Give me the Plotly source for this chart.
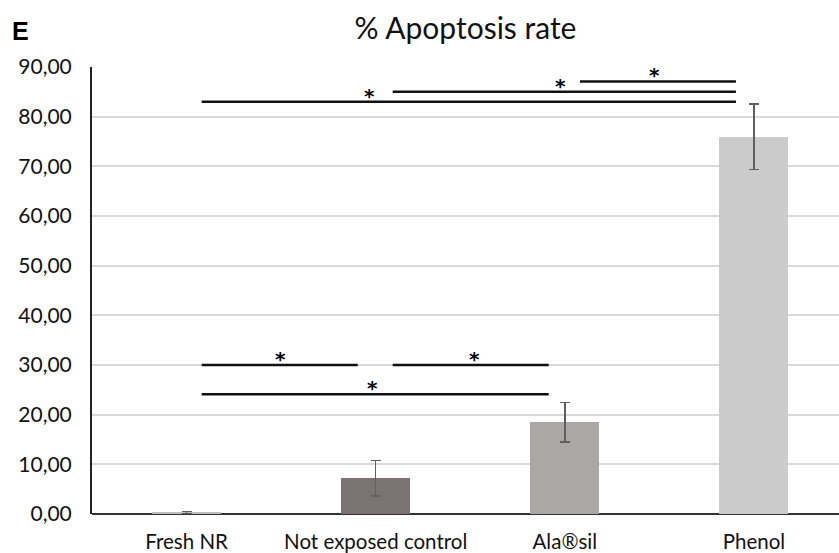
import plotly.graph_objects as go

categories = ["Fresh NR", "Not exposed control", "Ala®sil", "Phenol"]
values = [0.3, 7.2, 18.5, 76.0]
errors = [0.2, 3.6, 4.0, 6.6]
bar_colors = ["#bdbdbd", "#7b7372", "#a9a8a4", "#cbcbcb"]

# significance brackets: (x_start, x_end, y)
sig_lines = [
    (2.08, 2.905, 87.1),
    (1.09, 2.905, 85.0),
    (0.08, 2.905, 83.0),
    (0.08, 0.905, 30.0),
    (1.09, 1.915, 30.0),
    (0.08, 1.915, 24.1),
]
# star positions: (x, y)
sig_stars = [
    (2.476, 87.1),
    (1.979, 85.0),
    (0.968, 83.0),
    (0.497, 30.0),
    (1.524, 30.0),
    (0.984, 24.1),
]

fig = go.Figure()
fig.add_trace(go.Bar(
    x=categories, y=values,
    marker=dict(color=bar_colors, line=dict(width=0)),
    width=0.365,
    error_y=dict(type="data", array=errors, color="#606060", thickness=1.5, width=5),
))

shapes = []
for x0, x1, y in sig_lines:
    shapes.append(dict(type="line", xref="x", yref="y", x0=x0, x1=x1, y0=y, y1=y,
                       line=dict(color="#111111", width=2.5)))
annotations = []
for x, y in sig_stars:
    annotations.append(dict(x=x, y=y, xref="x", yref="y", text="<b>*</b>", showarrow=False,
                            yanchor="bottom", yshift=-8,
                            font=dict(size=20, color="#000000", family="DejaVu Sans")))
annotations.append(dict(xref="paper", yref="paper", x=-0.11, y=1.045, xanchor="left", yanchor="bottom",
                        text="<b>E</b>", showarrow=False,
                        font=dict(size=25, color="#000000", family="Arial")))

fig.update_layout(
    width=839, height=553,
    margin=dict(l=92, r=0, t=67, b=39),
    paper_bgcolor="white", plot_bgcolor="white",
    separators=",.",
    showlegend=False,
    title=dict(text="% Apoptosis rate", x=0.5, xref="paper", y=0.948, yanchor="middle",
               font=dict(size=30, color="#111111", family="Lato")),
    font=dict(family="Lato", color="#111111"),
    xaxis=dict(range=[-0.5, 3.45], showgrid=False, showline=False, ticks="",
               ticklabelstandoff=13,
               tickfont=dict(size=20.5, color="#111111", family="Lato"), zeroline=False),
    yaxis=dict(range=[0, 90], dtick=10, tickformat=".2f", showgrid=True, gridcolor="#d9d9d9",
               gridwidth=1.5, showline=True, linecolor="#222222", linewidth=2,
               zeroline=True, zerolinecolor="#333333", zerolinewidth=2,
               ticks="", ticklabelstandoff=14,
               tickfont=dict(size=21, color="#111111", family="Lato")),
    shapes=shapes,
    annotations=annotations,
    bargap=0,
)

fig.write_html("out.html")
